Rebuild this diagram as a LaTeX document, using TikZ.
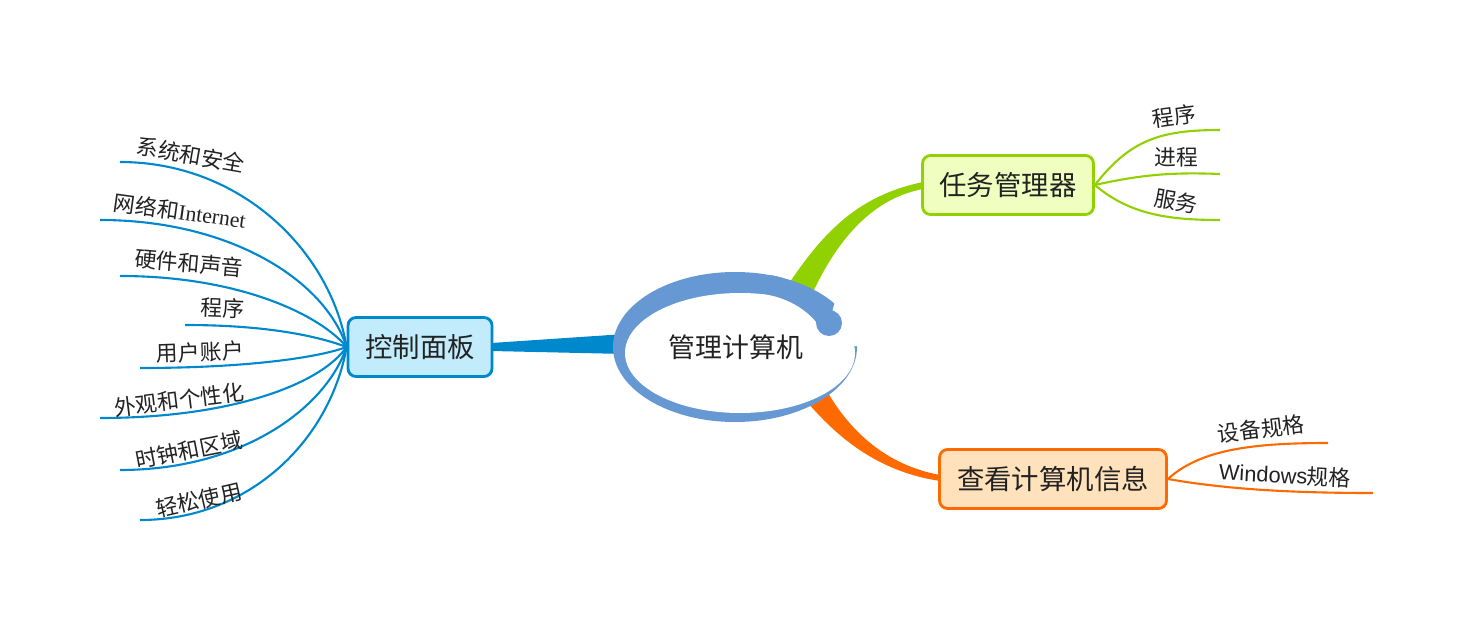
\documentclass[tikz,border=0pt]{standalone}
\usepackage{fontspec}
\setmainfont{Noto Sans CJK SC}
\newfontfamily\latinserif{Liberation Serif}
\newfontfamily\latinsans{Liberation Sans}
\usetikzlibrary{calc}
\definecolor{ringblue}{RGB}{102,153,212}
\definecolor{panelblue}{RGB}{0,136,204}
\definecolor{panelfill}{RGB}{194,236,252}
\definecolor{taskgreen}{RGB}{146,209,0}
\definecolor{taskfill}{RGB}{240,255,192}
\definecolor{infoorange}{RGB}{255,106,0}
\definecolor{infofill}{RGB}{255,226,188}
\definecolor{textgray}{RGB}{34,34,34}
\begin{document}
\begin{tikzpicture}[x=0.02cm, y=-0.02cm,
    box/.style={draw, line width=1.6pt, rounded corners=0.16cm, text=textgray,
        font=\fontsize{15.6}{18}\selectfont, minimum height=1.18cm, inner sep=0pt},
    leaf/.style={text=textgray, font=\fontsize{12.4}{14}\selectfont, inner sep=0pt},
    twig/.style={line width=1.2pt}]
    \useasboundingbox (0,0) rectangle (1479,621);

    % Topic boxes
    \node[box, fill=panelfill, draw=panelblue, minimum width=2.88cm] (panel) at (420,347) {控制面板};
    \node[box, fill=taskfill, draw=taskgreen, minimum width=3.42cm] (task) at (1008,185) {任务管理器};
    \node[box, fill=infofill, draw=infoorange, minimum width=4.54cm] (info) at (1053,479) {查看计算机信息};

    % Main branches
    \fill[panelblue] ($(panel.east)+(-2,-4)$) -- (625,334) -- (625,354) -- ($(panel.east)+(-2,4)$) -- cycle;
    \fill[taskgreen] (790,282) .. controls (825,230) and (860,195) .. ($(task.west)+(2,-3)$)
        -- ($(task.west)+(2,4)$) .. controls (875,198) and (840,235) .. (813,292) -- cycle;
    \fill[infoorange] (828,393) .. controls (850,430) and (885,465) .. ($(info.west)+(2,-4)$)
        -- ($(info.west)+(2,2)$) .. controls (880,472) and (840,440) .. (808,403) -- cycle;

    % Central ring
    \fill[ringblue] (735,347) ellipse (122 and 75);
    \fill[white] (740,353) ellipse (115 and 60);
    \fill[white] (829,323) -- (836,298) -- (880,298) -- (880,346) -- (829,346) -- cycle;
    \draw[ringblue, line width=11.3pt, line cap=round] (770,285) .. controls (800,291) and (820,308) .. (829,323);
    \fill[ringblue] (829,323) circle[radius=13];
    \node[text=textgray, font=\fontsize{15.3}{18}\selectfont] (root) at (736,347) {管理计算机};

    % Control panel leaves
    \coordinate (cp1) at (120,162);
    \coordinate (cp2) at (100,220);
    \coordinate (cp3) at (120,276);
    \coordinate (cp4) at (185,325);
    \coordinate (cp5) at (140,368);
    \coordinate (cp6) at (100,418);
    \coordinate (cp7) at (120,470);
    \coordinate (cp8) at (140,520);
    \draw[twig, panelblue] (cp1) .. controls (240,162) and (330,250) .. (panel.west);
    \draw[twig, panelblue] (cp2) .. controls (230,220) and (325,280) .. (panel.west);
    \draw[twig, panelblue] (cp3) .. controls (240,276) and (320,315) .. (panel.west);
    \draw[twig, panelblue] (cp4) .. controls (270,325) and (320,337) .. (panel.west);
    \draw[twig, panelblue] (cp5) .. controls (250,368) and (320,357) .. (panel.west);
    \draw[twig, panelblue] (cp6) .. controls (230,418) and (320,385) .. (panel.west);
    \draw[twig, panelblue] (cp7) .. controls (240,470) and (325,410) .. (panel.west);
    \draw[twig, panelblue] (cp8) .. controls (250,520) and (330,440) .. (panel.west);
    \node[leaf, rotate=-10] (cpl1) at (191,155) {系统和安全};
    \node[leaf, rotate=-8] (cpl2) at (180,211) {网络和{\latinserif Internet}};
    \node[leaf, rotate=-5] (cpl3) at (189,263) {硬件和声音};
    \node[leaf, rotate=-2] (cpl4) at (223,308) {程序};
    \node[leaf, rotate=2] (cpl5) at (200,352) {用户账户};
    \node[leaf, rotate=7] (cpl6) at (179,400) {外观和个性化};
    \node[leaf, rotate=11] (cpl7) at (189,450) {时钟和区域};
    \node[leaf, rotate=13] (cpl8) at (199,500) {轻松使用};

    % Task manager leaves
    \coordinate (tm1) at (1220,130);
    \coordinate (tm2) at (1220,174);
    \coordinate (tm3) at (1220,220);
    \draw[twig, taskgreen] (task.east) .. controls (1130,140) and (1160,130) .. (tm1);
    \draw[twig, taskgreen] (task.east) .. controls (1140,175) and (1170,172) .. (tm2);
    \draw[twig, taskgreen] (task.east) .. controls (1130,215) and (1170,220) .. (tm3);
    \node[leaf, rotate=8] (tml1) at (1174,116) {程序};
    \node[leaf] (tml2) at (1176,157) {进程};
    \node[leaf, rotate=-10] (tml3) at (1176,201) {服务};

    % Computer info leaves
    \coordinate (ci1) at (1328,443);
    \coordinate (ci2) at (1373,493);
    \draw[twig, infoorange] (info.east) .. controls (1200,450) and (1250,443) .. (ci1);
    \draw[twig, infoorange] (info.east) .. controls (1230,490) and (1300,493) .. (ci2);
    \node[leaf, rotate=7] (cil1) at (1261,429) {设备规格};
    \node[leaf, rotate=-3] (cil2) at (1285,475) {{\latinsans Windows}规格};
\end{tikzpicture}
\end{document}
